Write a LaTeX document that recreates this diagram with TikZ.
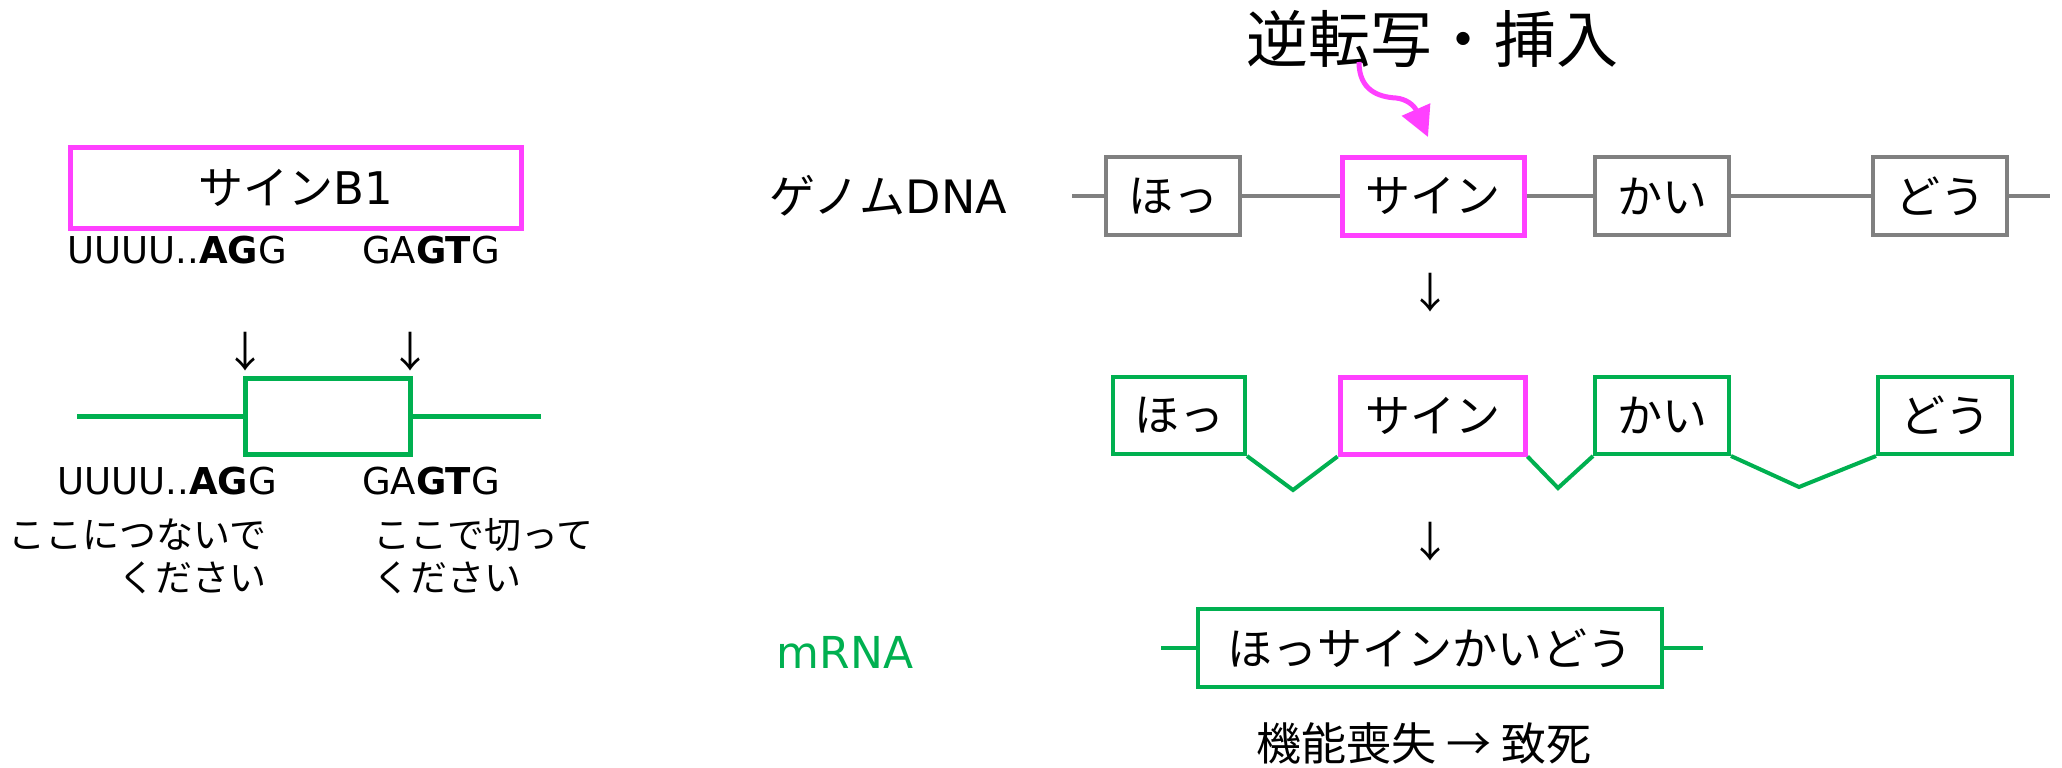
\documentclass[tikz,border=0pt]{standalone}
\usepackage{fontspec}
\setmainfont{DejaVu Sans}
\newfontfamily\jp{Noto Sans CJK JP}
\usetikzlibrary{arrows.meta}
\definecolor{mag}{HTML}{FF40FF}
\definecolor{grn}{HTML}{00B050}
\definecolor{gry}{HTML}{808080}
\newcommand{\fsz}[1]{\fontsize{#1}{#1}\selectfont}
\begin{document}
\begin{tikzpicture}[x=1pt,y=-1pt,
  every node/.style={inner sep=0pt},
  seq/.style={font=\fsz{37}},
  jtxt/.style={font=\jp\fsz{37}},
  darrow/.style={font=\jp\fsz{42}},
  gbox/.style={draw=gry, line width=4pt, fill=white, minimum height=78pt, minimum width=134pt, font=\jp\fsz{45}},
  ebox/.style={draw=grn, line width=4pt, fill=white, minimum height=77pt, minimum width=134pt, font=\jp\fsz{45}},
  mbox/.style={draw=mag, line width=5pt, fill=white, font=\jp\fsz{45}},
  gline/.style={draw=gry, line width=4pt},
  eline/.style={draw=grn, line width=4pt}]
\useasboundingbox (0,0) rectangle (2062,768);

% ---------- left part ----------
\node[draw=mag, line width=5pt, minimum width=451pt, minimum height=81pt, font=\fsz{45}] (sineB) at (295.5,187.5) {{\jp サイン}B1};
\node[seq] (u1) at (177,250) {UUUU..\textbf{AG}G};
\node[seq] (g1) at (431,250) {GA\textbf{GT}G};
\node[darrow] (a1) at (245,352) {↓};
\node[darrow] (a2) at (410,352) {↓};
\node[draw=grn, line width=5pt, minimum width=165pt, minimum height=76pt] (exon) at (327.5,416) {};
\coordinate (lL) at (77,416);
\coordinate (lR) at (541,416);
\draw[grn, line width=5pt] (lL) -- (exon.west);
\draw[grn, line width=5pt] (exon.east) -- (lR);
\node[seq] (u2) at (167,481) {UUUU..\textbf{AG}G};
\node[seq] (g2) at (431,481) {GA\textbf{GT}G};
\node[jtxt, anchor=east] (j1) at (267,535) {ここにつないで};
\node[jtxt, anchor=east] (j2) at (267,578) {ください};
\node[jtxt, anchor=west] (k1) at (373,535) {ここで切って};
\node[jtxt, anchor=west] (k2) at (373,578) {ください};

% ---------- right part ----------
\node[font=\jp\fsz{62}] (title) at (1432,39) {逆転写・挿入};
\node[font=\fsz{46}] (gdna) at (888,196) {{\jp ゲノム}DNA};

\coordinate (gL) at (1072,196);
\coordinate (gR) at (2050,196);
\node[gbox] (ho1) at (1173,196) {ほっ};
\node[mbox, minimum width=182pt, minimum height=78pt] (sine1) at (1433,196) {サイン};
\node[gbox] (kai1) at (1662,196) {かい};
\node[gbox] (dou1) at (1940,196) {どう};
\draw[gline] (gL) -- (ho1.west);
\draw[gline] (ho1.east) -- (sine1.west);
\draw[gline] (sine1.east) -- (kai1.west);
\draw[gline] (kai1.east) -- (dou1.west);
\draw[gline] (dou1.east) -- (gR);

\coordinate (cs) at (1359,62);
\coordinate (ce) at (1428,137);
\draw[mag, line width=5pt, -{Triangle[length=30pt,width=30pt]}]
  (cs) .. controls (1359,90) and (1378,97) .. (1396,98)
       .. controls (1406,99) and (1414,105) .. (ce);

\node[darrow] (d1) at (1430,293) {↓};

\node[ebox, minimum width=132pt] (ho2) at (1179,415.5) {ほっ};
\node[mbox, minimum width=185pt, minimum height=77pt] (sine2) at (1432.5,415.5) {サイン};
\node[ebox] (kai2) at (1662,415.5) {かい};
\node[ebox] (dou2) at (1945,415.5) {どう};
\coordinate (v1) at (1293,490);
\coordinate (v2) at (1558,488);
\coordinate (v3) at (1799,487);
\draw[eline] (ho2.south east) -- (v1) -- (sine2.south west);
\draw[eline] (sine2.south east) -- (v2) -- (kai2.south west);
\draw[eline] (kai2.south east) -- (v3) -- (dou2.south west);

\node[darrow] (d2) at (1430,542) {↓};

\node[font=\fsz{44}, text=grn] (mrna) at (845,652) {mRNA};
\node[ebox, minimum width=464pt, minimum height=78pt] (mbx) at (1430,648) {ほっサインかいどう};
\coordinate (mL) at (1161,648);
\coordinate (mR) at (1703,648);
\draw[eline] (mL) -- (mbx.west);
\draw[eline] (mbx.east) -- (mR);

\node[font=\jp\fsz{45}] (fate) at (1424,743) {機能喪失 → 致死};
\end{tikzpicture}
\end{document}
